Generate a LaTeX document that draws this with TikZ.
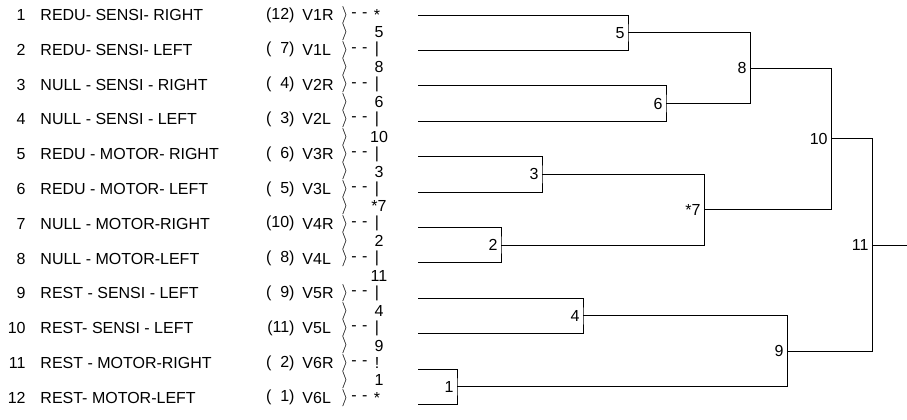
\documentclass[tikz,border=0pt]{standalone}
\usepackage{fontspec}
\setmainfont{Liberation Sans}
\usetikzlibrary{positioning}

\begin{document}
\begin{tikzpicture}[x=1pt,y=-1pt,line width=0.9pt,every node/.style={inner sep=0pt,font=\fontsize{16}{19}\selectfont},
  joint/.style={label={[inner sep=3pt]left:#1}}]
\useasboundingbox (0,0) rectangle (907,420);

% variable table
\foreach \i/\nm/\rk/\vr/\mk in {1/REDU- SENSI- RIGHT/(12)/V1R/*,2/REDU- SENSI- LEFT/(\hphantom{1}7)/V1L/|,
  3/NULL - SENSI - RIGHT/(\hphantom{1}4)/V2R/|,4/NULL - SENSI - LEFT/(\hphantom{1}3)/V2L/|,
  5/REDU - MOTOR- RIGHT/(\hphantom{1}6)/V3R/|,6/REDU - MOTOR- LEFT/(\hphantom{1}5)/V3L/|,
  7/NULL - MOTOR-RIGHT/(10)/V4R/|,8/NULL - MOTOR-LEFT/(\hphantom{1}8)/V4L/|,
  9/REST - SENSI - LEFT/(\hphantom{1}9)/V5R/|,10/REST- SENSI - LEFT/(11)/V5L/|,
  11/REST - MOTOR-RIGHT/(\hphantom{1}2)/V6R/!,12/REST- MOTOR-LEFT/(\hphantom{1}1)/V6L/*}{
  \pgfmathsetmacro{\y}{15+34.8*(\i-1)}
  \node[anchor=east] (n\i) at (26,\y) {\i};
  \node[anchor=west] (t\i) at (40,\y) {\nm};
  \node[anchor=east] (r\i) at (295,\y) {\rk};
  \node[anchor=west] (v\i) at (302,\y) {\vr};
  \node (b\i) at (345,\y) {$\rangle$};
  \node[anchor=west] (d\i) at (351,\y) {-\,\,-};
  \node (m\i) at (377,\y) {\mk};
}
\foreach \i/\k in {1/5,2/8,3/6,4/10,5/3,6/{*7},7/2,9/4,10/9,11/1}{
  \pgfmathsetmacro{\y}{15+34.8*(\i-0.5)}
  \node (h\i) at (345,\y) {$\rangle$};
  \node (s\i) at (379,\y) {\k};
}
\node (s8) at (379,{15+34.8*7.5}) {11};

% dendrogram
\foreach \i in {1,...,12}
  \coordinate (l\i) at (418,{15+35.4*(\i-1)});
\coordinate[joint=5] (c5) at (628,32.7);
\coordinate[joint=6] (c6) at (666,103.5);
\coordinate[joint=3] (c3) at (542,174.3);
\coordinate[joint=2] (c2) at (501,245.1);
\coordinate[joint=4] (c4) at (583,315.9);
\coordinate[joint=1] (c1) at (457,386.7);
\coordinate[joint=8] (c8) at (750,68.1);
\coordinate[joint={*7}] (c7) at (704,209.7);
\coordinate[joint=9] (c9) at (787,351.3);
\coordinate[joint=10] (c10) at (831,138.9);
\coordinate[joint=11] (c11) at (872,245.1);
\coordinate (root) at (907,245.1);
\draw (l1) -| (c5) |- (l2);
\draw (l3) -| (c6) |- (l4);
\draw (l5) -| (c3) |- (l6);
\draw (l7) -| (c2) |- (l8);
\draw (l9) -| (c4) |- (l10);
\draw (l11) -| (c1) |- (l12);
\draw (c5) -| (c8) |- (c6);
\draw (c3) -| (c7) |- (c2);
\draw (c4) -| (c9) |- (c1);
\draw (c8) -| (c10) |- (c7);
\draw (c10) -| (c11) |- (c9);
\draw (c11) -- (root);
\end{tikzpicture}
\end{document}
